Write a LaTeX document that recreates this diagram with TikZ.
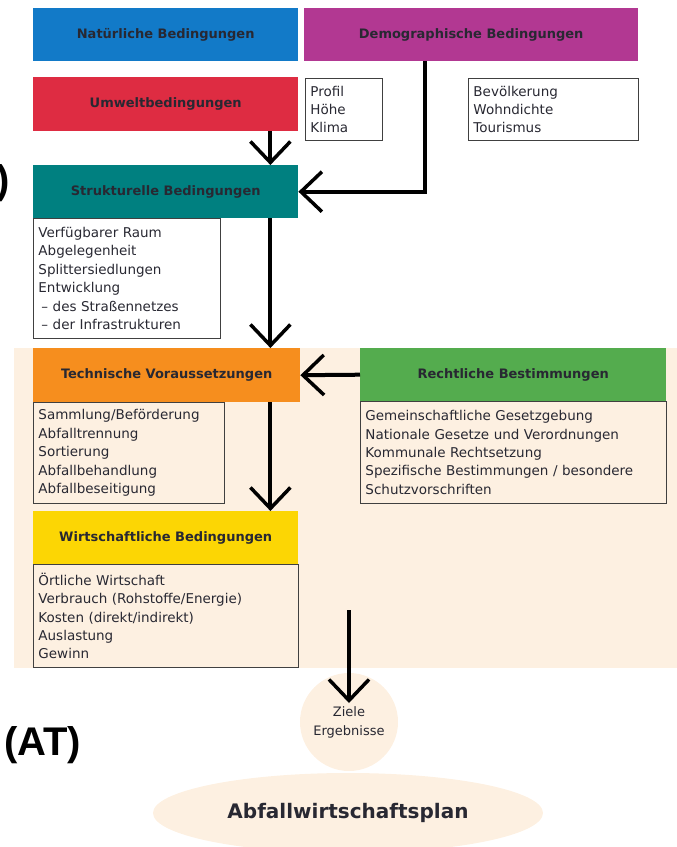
\documentclass[tikz,border=0pt]{standalone}
\usepackage{fontspec}
\setmainfont{DejaVu Sans}
\newfontfamily\headfont{Liberation Sans}
\usetikzlibrary{arrows.meta,shapes.geometric}
\definecolor{natblue}{RGB}{18,122,200}
\definecolor{demmagenta}{RGB}{178,56,146}
\definecolor{umwred}{RGB}{222,44,66}
\definecolor{strteal}{RGB}{0,128,128}
\definecolor{tecorange}{RGB}{246,142,30}
\definecolor{recgreen}{RGB}{84,172,78}
\definecolor{wiryellow}{RGB}{252,214,4}
\definecolor{beige}{RGB}{253,240,225}
\definecolor{txt}{RGB}{40,40,50}
\begin{document}
\begin{tikzpicture}[x=1pt,y=-1pt,
    head/.style={anchor=north west, inner sep=0pt, align=center, text=txt, font=\bfseries\fontsize{13}{15}\selectfont},
    list/.style={anchor=north west, draw=black!75, line width=0.9pt, inner xsep=5pt, inner ysep=3pt, align=left, text=txt, font=\fontsize{13.5}{18.4}\selectfont},
    arr/.style={line width=4pt, -{Straight Barb[length=21pt,width=40pt,line width=3.5pt]}}]
    \useasboundingbox (0,0) rectangle (677,847);
    \fill[beige] (14,348) rectangle (677,668);

    \node[head, fill=natblue, minimum width=265pt, minimum height=53pt] (nat) at (33,8) {Natürliche Bedingungen};
    \node[head, fill=demmagenta, minimum width=334pt, minimum height=53pt] (dem) at (304,8) {Demographische Bedingungen};
    \node[head, fill=umwred, minimum width=265pt, minimum height=54pt] (umw) at (33,77) {Umweltbedingungen};
    \node[list, text width=67pt, minimum height=62pt] (profil) at (305,78) {Profil\\Höhe\\Klima};
    \node[list, text width=160pt, minimum height=62pt] (bev) at (468,78) {Bevölkerung\\Wohndichte\\Tourismus};
    \node[head, fill=strteal, minimum width=265pt, minimum height=53pt] (str) at (33,165) {Strukturelle Bedingungen};
    \node[list, text width=177pt, minimum height=120pt] (strlist) at (33,218) {Verfügbarer Raum\\Abgelegenheit\\Splittersiedlungen\\Entwicklung\\\hspace*{3pt}-- des Straßennetzes\\\hspace*{3pt}-- der Infrastrukturen};

    \node[head, fill=tecorange, minimum width=267pt, minimum height=54pt] (tec) at (33,348) {Technische Voraussetzungen};
    \node[head, fill=recgreen, minimum width=306pt, minimum height=53pt] (rec) at (360,348) {Rechtliche Bestimmungen};
    \node[list, text width=181pt, minimum height=101pt] (teclist) at (33,402) {Sammlung/Beförderung\\Abfalltrennung\\Sortierung\\Abfallbehandlung\\Abfallbeseitigung};
    \node[list, text width=296pt, minimum height=102pt] (reclist) at (360,401) {Gemeinschaftliche Gesetzgebung\\Nationale Gesetze und Verordnungen\\Kommunale Rechtsetzung\\Spezifische Bestimmungen / besondere\\Schutzvorschriften};
    \node[head, fill=wiryellow, minimum width=265pt, minimum height=53pt] (wir) at (33,511) {Wirtschaftliche Bedingungen};
    \node[list, text width=255pt, minimum height=103pt] (wirlist) at (33,564) {Örtliche Wirtschaft\\Verbrauch (Rohstoffe/Energie)\\Kosten (direkt/indirekt)\\Auslastung\\Gewinn};

    \node[circle, fill=beige, minimum size=98pt, inner sep=0pt, align=center, text=txt, font=\fontsize{13}{19}\selectfont] (ziel) at (349,722) {Ziele\\Ergebnisse};
    \node[ellipse, fill=beige, minimum width=390pt, minimum height=80pt, text=txt, font=\bfseries\fontsize{20}{22}\selectfont] (plan) at (348,813) {Abfallwirtschaftsplan};
    \node[font=\headfont\bfseries\fontsize{40}{42}\selectfont, inner sep=0pt, anchor=west] (at) at (4,745) {(AT)};
    \node[font=\headfont\bfseries\fontsize{40}{42}\selectfont, inner sep=0pt, anchor=east] (paren) at (10,183) {)};

    \draw[arr] ([xshift=-28pt]umw.south east) -- ([xshift=-28pt]str.north east);
    \draw[arr] ([xshift=121pt]dem.south west) |- (str.east);
    \draw[arr] ([xshift=-28pt]str.south east) -- ([xshift=-28pt]str.south east |- tec.north);
    \draw[arr] (rec.west) -- (tec.east);
    \draw[arr] ([xshift=-30pt]tec.south east) -- ([xshift=-30pt]tec.south east |- wir.north);
    \coordinate (zielstart) at (349,610);
    \draw[arr, shorten >=19pt] (zielstart) -- (ziel.center);
\end{tikzpicture}
\end{document}
